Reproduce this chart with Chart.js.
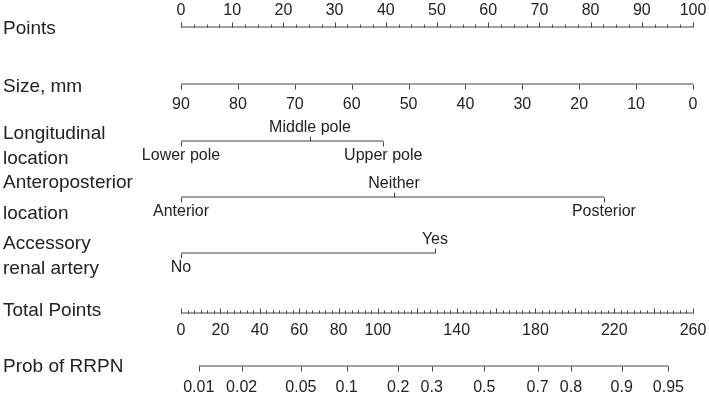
<!DOCTYPE html>
<html>
<head>
<meta charset="utf-8">
<script src="https://cdn.jsdelivr.net/npm/chart.js@4/dist/chart.umd.min.js"></script>
<style>
html,body{margin:0;padding:0;background:#fff;}
#wrap{width:709px;height:394px;}
</style>
</head>
<body>
<div id="wrap"><canvas id="c" width="709" height="394"></canvas></div>
<script>
// ---------- DATA ----------
const rowTitles = [
  ['Points'],
  ['Size, mm'],
  ['Longitudinal', 'location'],
  ['Anteroposterior', 'location'],
  ['Accessory', 'renal artery'],
  ['Total Points'],
  ['Prob of RRPN']
];
const pointsTicks = [0, 10, 20, 30, 40, 50, 60, 70, 80, 90, 100];
const sizeTicks = [90, 80, 70, 60, 50, 40, 30, 20, 10, 0];
const longLabels = ['Lower pole', 'Middle pole', 'Upper pole'];
const longPoints = [0, 25.2, 39.5];
const apLabels = ['Anterior', 'Neither', 'Posterior'];
const apPoints = [0, 41.6, 82.6];
const araLabels = ['No', 'Yes'];
const araPoints = [0, 49.6];
const totalTicks = [0, 20, 40, 60, 80, 100, 120, 140, 160, 180, 200, 220, 240, 260];
const totalTickLabels = ['0', '20', '40', '60', '80', '100', '', '140', '', '180', '', '220', '', '260'];
const probLabels = ['0.01', '0.02', '0.05', '0.1', '0.2', '0.3', '0.5', '0.7', '0.8', '0.9', '0.95'];
const probTotalPoints = [9.0, 30.8, 60.9, 84.1, 110.3, 127.3, 154.0, 181.1, 198.0, 223.8, 247.5];

// ---------- LAYOUT / STYLE ----------
const FONT = '"Liberation Sans", Arial, Helvetica, sans-serif';
const TXT = '#222222';
const LINE = '#444444';
const rowY = [27, 84, 141, 197, 253, 313, 366];
const titleBase = [[34], [92], [139, 164], [188, 219], [249, 274], [316], [372]];
const MAJ = 5, MIN = 3;
const pointsMinorPerMajor = 4;
const totalMinorPerMajor = 6;

function seg(scaleMin, scaleMax, y) {
  return [{x: scaleMin, y: y}, {x: scaleMax, y: y}];
}
const lineStyle = {borderColor: LINE, borderWidth: 1, pointRadius: 0, showLine: true, fill: false};

const datasets = [
  Object.assign({label: 'Points', xAxisID: 'x', data: seg(pointsTicks[0], pointsTicks[pointsTicks.length - 1], rowY[0])}, lineStyle),
  Object.assign({label: 'Size', xAxisID: 'xSize', data: seg(sizeTicks[0], sizeTicks[sizeTicks.length - 1], rowY[1])}, lineStyle),
  Object.assign({label: 'Longitudinal', xAxisID: 'x', data: seg(Math.min(...longPoints), Math.max(...longPoints), rowY[2])}, lineStyle),
  Object.assign({label: 'Anteroposterior', xAxisID: 'x', data: seg(Math.min(...apPoints), Math.max(...apPoints), rowY[3])}, lineStyle),
  Object.assign({label: 'Accessory', xAxisID: 'x', data: seg(Math.min(...araPoints), Math.max(...araPoints), rowY[4])}, lineStyle),
  Object.assign({label: 'Total', xAxisID: 'xTotal', data: seg(totalTicks[0], totalTicks[totalTicks.length - 1], rowY[5])}, lineStyle),
  Object.assign({label: 'Prob', xAxisID: 'xTotal', data: seg(probTotalPoints[0], probTotalPoints[probTotalPoints.length - 1], rowY[6])}, lineStyle)
];

const nomoPlugin = {
  id: 'nomo',
  afterDatasetsDraw(chart) {
    const ctx = chart.ctx;
    const sx = chart.scales.x, ss = chart.scales.xSize, st = chart.scales.xTotal, sy = chart.scales.y;
    const Y = i => sy.getPixelForValue(rowY[i]);
    ctx.save();
    ctx.strokeStyle = LINE;
    ctx.lineWidth = 1;
    function tick(px, y, len) {
      const xx = Math.round(px) + 0.5;
      ctx.beginPath();
      ctx.moveTo(xx, Math.round(y) + 0.5);
      ctx.lineTo(xx, Math.round(y) + 0.5 + len);
      ctx.stroke();
    }
    function text(s, px, base, size) {
      ctx.font = size + 'px ' + FONT;
      ctx.fillStyle = TXT;
      ctx.textAlign = 'center';
      ctx.textBaseline = 'alphabetic';
      ctx.fillText(s, px, base);
    }
    function minorTicks(scale, ticks, perMajor, y, len) {
      for (let k = 0; k < ticks.length - 1; k++) {
        const a = ticks[k], b = ticks[k + 1];
        for (let m = 1; m < perMajor; m++) {
          tick(scale.getPixelForValue(a + (b - a) * m / perMajor), y, len);
        }
      }
    }
    // titles
    rowTitles.forEach((lines, i) => {
      lines.forEach((t, j) => {
        ctx.font = '19px ' + FONT;
        ctx.fillStyle = TXT;
        ctx.textAlign = 'left';
        ctx.textBaseline = 'alphabetic';
        ctx.fillText(t, 3, titleBase[i][j]);
      });
    });
    // Points axis: ticks up, labels above
    let y = Y(0);
    minorTicks(sx, pointsTicks, pointsMinorPerMajor, y, -MIN);
    pointsTicks.forEach(v => { tick(sx.getPixelForValue(v), y, -MAJ); text(String(v), sx.getPixelForValue(v), y - 12, 16); });
    // Size axis: ticks down, labels below
    y = Y(1);
    sizeTicks.forEach(v => { tick(ss.getPixelForValue(v), y, MAJ); text(String(v), ss.getPixelForValue(v), y + 25, 16); });
    // categorical rows
    function catRow(i, labels, pts) {
      const yy = Y(i);
      labels.forEach((lab, k) => {
        const px = sx.getPixelForValue(pts[k]);
        const up = (k % 2 === 1);
        tick(px, yy, up ? -MAJ : MAJ);
        text(lab, px, up ? yy - 9 : yy + 19, 16);
      });
    }
    catRow(2, longLabels, longPoints);
    catRow(3, apLabels, apPoints);
    catRow(4, araLabels, araPoints);
    // Total points: ticks up, labels below
    y = Y(5);
    minorTicks(st, totalTicks, totalMinorPerMajor, y, -MIN);
    totalTicks.forEach((v, k) => {
      tick(st.getPixelForValue(v), y, -MAJ);
      if (totalTickLabels[k]) text(totalTickLabels[k], st.getPixelForValue(v), y + 22, 16);
    });
    // Probability: ticks down, labels below
    y = Y(6);
    probTotalPoints.forEach((v, k) => {
      tick(st.getPixelForValue(v), y, MAJ);
      text(probLabels[k], st.getPixelForValue(v), y + 26, 16);
    });
    ctx.restore();
  }
};

new Chart(document.getElementById('c'), {
  type: 'scatter',
  data: {datasets: datasets},
  options: {
    responsive: false,
    devicePixelRatio: 1,
    animation: false,
    layout: {padding: {left: 181, right: 16, top: 0, bottom: 0}},
    plugins: {legend: {display: false}, tooltip: {enabled: false}},
    scales: {
      x: {type: 'linear', min: 0, max: 100, display: false},
      xSize: {type: 'linear', axis: 'x', min: 0, max: 90, reverse: true, display: false},
      xTotal: {type: 'linear', axis: 'x', min: 0, max: 260, display: false},
      y: {type: 'linear', min: 0, max: 394, reverse: true, display: false}
    }
  },
  plugins: [nomoPlugin]
});
</script>
</body>
</html>
